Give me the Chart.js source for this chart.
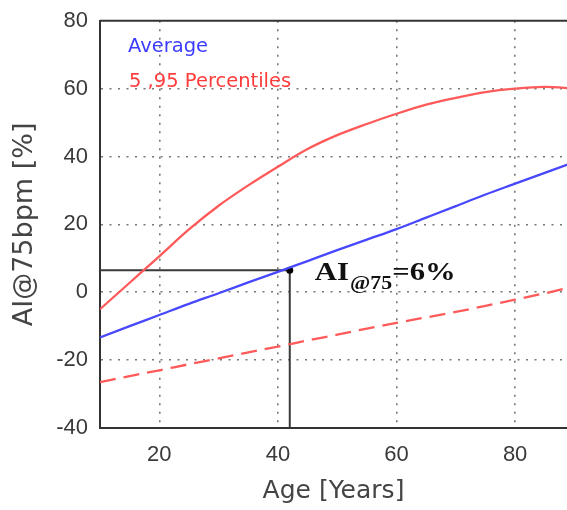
<!DOCTYPE html>
<html>
<head>
<meta charset="utf-8">
<script src="https://cdn.jsdelivr.net/npm/chart.js@4"></script>
<style>
  body { margin: 0; background: #fff; }
  #wrap { width: 567px; height: 510px; position: relative; }
</style>
</head>
<body>
<div id="wrap"><canvas id="grafiek"></canvas></div>
<script>
// data
var ages = [10, 15, 20, 25, 30, 35, 40, 45, 50, 55, 60, 65, 70, 75, 80, 85, 90];
var average = [-13.3, -10, -6.7, -3.4, -0.3, 2.9, 6.0, 9.2, 12.4, 15.5, 18.6, 22, 25.4, 28.8, 32, 35.2, 38.4];
var p95 = [-5, 2.8, 10.6, 18.5, 25.5, 31.5, 37, 42.2, 46.3, 49.6, 52.6, 55.3, 57.3, 59, 60, 60.5, 60];
var p5 = [-26.5, -24.7, -23, -21.2, -19.5, -17.7, -16, -14.2, -12.5, -10.7, -9, -7.4, -5.8, -4, -2.2, -0.3, 1.7];
var xTicks = [20, 40, 60, 80];
var yTicks = [-40, -20, 0, 20, 40, 60, 80];
var refAge = 42;
var refValue = 6.5;

var tickFont = { family: 'Liberation Sans', size: 22, lineHeight: 0.8 };

function pts(vals) {
  return ages.map(function(a, i) { return { x: a, y: vals[i] }; });
}

// rand boven + tekst in het plot
var extras = {
  id: 'extras',
  afterDraw: function(chart) {
    var ctx = chart.ctx;
    var ca = chart.chartArea;
    var xs = chart.scales.x;
    var ys = chart.scales.y;
    ctx.save();
    ctx.strokeStyle = '#333';
    ctx.lineWidth = 2;
    ctx.beginPath();
    ctx.moveTo(ca.left, ca.top);
    ctx.lineTo(ca.right, ca.top);
    ctx.stroke();

    ctx.textBaseline = 'middle';
    ctx.font = '19.5px "DejaVu Sans"';
    ctx.fillStyle = '#3c3cff';
    ctx.fillText('Average', ca.left + 28, 47);
    ctx.fillStyle = '#ff3c3c';
    ctx.fillText('5 ,95 Percentiles', ca.left + 29, 82);

    // AI@75=6% (tekst iets breed getrokken zoals in het origineel)
    var x0 = xs.getPixelForValue(refAge) + 25;
    var y = ys.getPixelForValue(refValue) + 10;
    ctx.translate(x0, 0);
    ctx.scale(1.18, 1);
    var x = 0;
    ctx.textBaseline = 'alphabetic';
    ctx.fillStyle = '#111';
    ctx.font = 'bold 26px "Liberation Serif"';
    ctx.fillText('AI', x, y);
    x += ctx.measureText('AI').width + 1;
    ctx.font = 'bold 18.5px "Liberation Serif"';
    ctx.fillText('@75', x, y + 9);
    x += ctx.measureText('@75').width;
    ctx.font = 'bold 26px "Liberation Serif"';
    ctx.fillText('=6%', x, y);
    ctx.restore();
  }
};

function maakGrafiek() {
  var ctx = document.getElementById('grafiek');
  new Chart(ctx, {
    type: 'line',
    data: {
      datasets: [
        {
          data: pts(p95),
          borderColor: '#ff5a5a',
          borderWidth: 2.3,
          pointRadius: 0,
          cubicInterpolationMode: 'monotone'
        },
        {
          data: pts(p5),
          borderColor: '#ff5a5a',
          borderWidth: 2.3,
          borderDash: [16, 8],
          pointRadius: 0,
          cubicInterpolationMode: 'monotone'
        },
        {
          data: pts(average),
          borderColor: '#4848ff',
          borderWidth: 2.3,
          pointRadius: 0,
          cubicInterpolationMode: 'monotone'
        },
        {
          // referentielijn naar het meetpunt
          data: [{ x: 10, y: refValue }, { x: refAge, y: refValue }, { x: refAge, y: -40 }],
          borderColor: '#3a3a3a',
          borderWidth: 2,
          pointRadius: [0, 3.5, 0],
          pointBackgroundColor: '#000',
          pointBorderWidth: 0,
          tension: 0
        }
      ]
    },
    options: {
      responsive: true,
      maintainAspectRatio: false,
      animation: false,
      layout: { padding: { top: 20, right: 0, left: 5, bottom: 0 } },
      plugins: {
        legend: { display: false },
        tooltip: { enabled: false }
      },
      scales: {
        x: {
          type: 'linear',
          min: 10,
          max: 88.75,
          afterBuildTicks: function(s) { s.ticks = xTicks.map(function(v) { return { value: v }; }); },
          afterFit: function(s) { s.height = 82; },
          border: { color: '#333', width: 2, dash: [2, 6.5] },
          grid: {
            color: '#777',
            lineWidth: 1.6,
            drawTicks: false
          },
          ticks: { color: '#3a3a3a', font: tickFont, padding: 18, maxRotation: 0 },
          title: { display: true, text: 'Age [Years]', color: '#444', font: { family: 'DejaVu Sans', size: 25 }, padding: { top: 11 } }
        },
        y: {
          min: -40,
          max: 80,
          afterBuildTicks: function(s) { s.ticks = yTicks.map(function(v) { return { value: v }; }); },
          afterFit: function(s) { s.width = 95; },
          border: { color: '#333', width: 2, dash: [2, 6.5] },
          grid: {
            color: function(c) {
              var v = c.tick && c.tick.value;
              return (v === 80 || v === -40) ? 'rgba(0,0,0,0)' : '#777';
            },
            lineWidth: 1.6,
            drawTicks: false
          },
          ticks: { color: '#3a3a3a', font: tickFont, padding: 12 },
          title: { display: true, text: 'AI@75bpm [%]', color: '#444', font: { family: 'DejaVu Sans', size: 27 }, padding: { bottom: 0 } }
        }
      }
    },
    plugins: [extras]
  });
}

window.onload = function() {
  maakGrafiek();
}
</script>
</body>
</html>
